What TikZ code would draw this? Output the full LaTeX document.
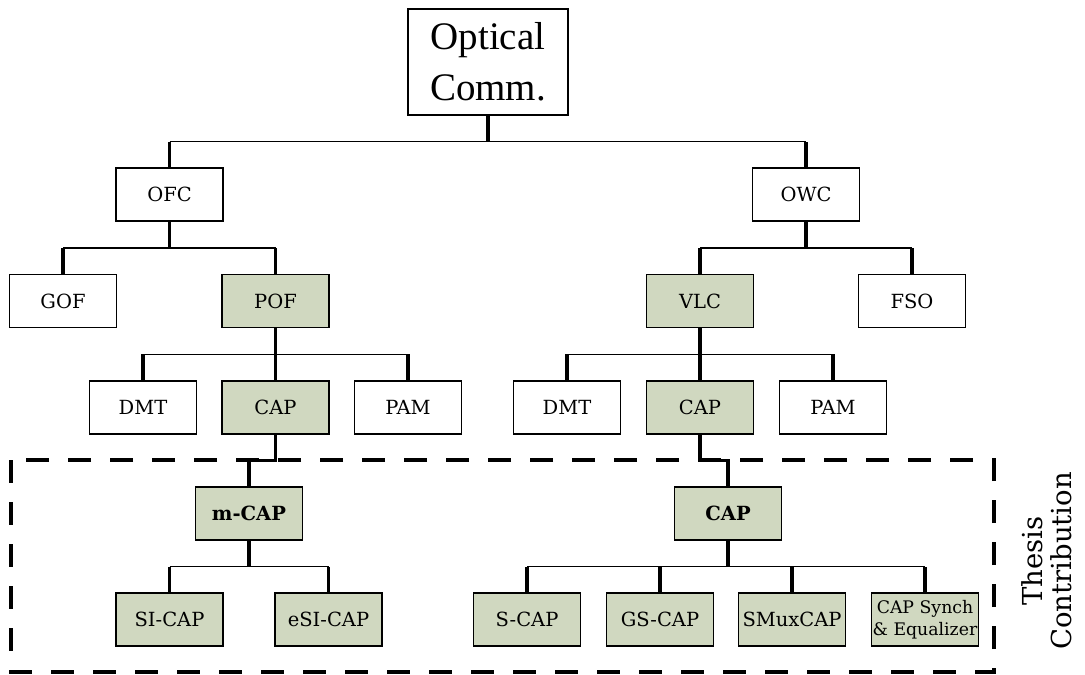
\documentclass[tikz,border=0pt]{standalone}
\usepackage{fontspec}
\setmainfont{Liberation Serif}
\newfontfamily\caixafont{DejaVu Serif}
\definecolor{contribfill}{RGB}{208,216,192}

\begin{document}
\begin{tikzpicture}[x=1pt, y=-1pt,
    caixa/.style={draw, line width=1.7pt, minimum width=107pt, minimum height=53pt,
        inner sep=0pt, font=\caixafont\fontsize{19.5}{23}\selectfont},
    destaque/.style={caixa, fill=contribfill},
    negrito/.style={font=\caixafont\bfseries\fontsize{19.5}{23}\selectfont},
    haste/.style={line width=3.8pt},
    barra/.style={line width=1.5pt},
    moldura/.style={line width=3.2pt, dash pattern=on 23pt off 19pt}
]
\useasboundingbox (0,0) rectangle (1085,675);

% Raiz
\node[draw, line width=1.7pt, minimum width=160pt, minimum height=106pt, align=center,
    font=\fontsize{39}{51}\selectfont] (optical) at (488,62) {Optical\\Comm.};

% Nivel 1 e 2
\node[caixa] (ofc) at (169.5,194.5) {OFC};
\node[caixa] (owc) at (806,194.5) {OWC};
\node[caixa] (gof) at (63,301) {GOF};
\node[destaque] (pof) at (275.5,301) {POF};
\node[destaque] (vlc) at (700,301) {VLC};
\node[caixa] (fso) at (912,301) {FSO};

% Modulacoes
\node[caixa] (dmtA) at (143,407.5) {DMT};
\node[destaque] (capA) at (275.5,407.5) {CAP};
\node[caixa] (pamA) at (408,407.5) {PAM};
\node[caixa] (dmtB) at (567,407.5) {DMT};
\node[destaque] (capB) at (700,407.5) {CAP};
\node[caixa] (pamB) at (833,407.5) {PAM};

% Contribuicao da tese
\draw[moldura] (11,460) rectangle (994,672);
\node[destaque, negrito] (mcap) at (249,513.5) {m-CAP};
\node[destaque, negrito] (capC) at (728,513.5) {CAP};
\node[destaque] (sicap) at (169.5,619.5) {SI-CAP};
\node[destaque] (esicap) at (328.5,619.5) {eSI-CAP};
\node[destaque] (scap) at (527,619.5) {S-CAP};
\node[destaque] (gscap) at (660,619.5) {GS-CAP};
\node[destaque] (smux) at (792,619.5) {SMuxCAP};
\node[destaque, align=center, font=\caixafont\fontsize{17.3}{22.5}\selectfont] (synch) at (925,619.5)
    {CAP Synch\\\& Equalizer};
\node[rotate=90, align=center, font=\caixafont\fontsize{27.5}{29}\selectfont] (tese) at (1047,561)
    {Thesis\\Contribution};

% Juncoes
\path (optical.south) -- (ofc.north) coordinate[pos=.5] (j0);
\path (ofc.south) -- (gof.north) coordinate[pos=.5] (j1);
\path (pof.south) -- (dmtA.north) coordinate[pos=.5] (j2);
\path (capA.south) -- (mcap.north) coordinate[pos=.5] (j3);
\path (mcap.south) -- (sicap.north) coordinate[pos=.5] (j4);

% Ligacoes
\draw[barra] (ofc.north |- j0) -- (owc.north |- j0);
\draw[haste] (optical.south) -- (optical.south |- j0);
\draw[haste] (ofc.north) -- (ofc.north |- j0);
\draw[haste] (owc.north) -- (owc.north |- j0);

\draw[barra] (gof.north |- j1) -- (pof.north |- j1);
\draw[barra] (vlc.north |- j1) -- (fso.north |- j1);
\draw[haste] (ofc.south) -- (ofc.south |- j1);
\draw[haste] (owc.south) -- (owc.south |- j1);
\draw[haste] (gof.north) -- (gof.north |- j1);
\draw[haste] (pof.north) -- (pof.north |- j1);
\draw[haste] (vlc.north) -- (vlc.north |- j1);
\draw[haste] (fso.north) -- (fso.north |- j1);

\draw[barra] (dmtA.north |- j2) -- (pamA.north |- j2);
\draw[barra] (dmtB.north |- j2) -- (pamB.north |- j2);
\draw[haste] (pof.south) -- (capA.north);
\draw[haste] (vlc.south) -- (capB.north);
\draw[haste] (dmtA.north) -- (dmtA.north |- j2);
\draw[haste] (pamA.north) -- (pamA.north |- j2);
\draw[haste] (dmtB.north) -- (dmtB.north |- j2);
\draw[haste] (pamB.north) -- (pamB.north |- j2);

\draw[haste] (capA.south) -- (capA.south |- j3) -| (mcap.north);
\draw[haste] (capB.south) -- (capB.south |- j3) -| (capC.north);

\draw[barra] (sicap.north |- j4) -- (esicap.north |- j4);
\draw[barra] (scap.north |- j4) -- (synch.north |- j4);
\draw[haste] (mcap.south) -- (mcap.south |- j4);
\draw[haste] (capC.south) -- (capC.south |- j4);
\draw[haste] (sicap.north) -- (sicap.north |- j4);
\draw[haste] (esicap.north) -- (esicap.north |- j4);
\draw[haste] (scap.north) -- (scap.north |- j4);
\draw[haste] (gscap.north) -- (gscap.north |- j4);
\draw[haste] (smux.north) -- (smux.north |- j4);
\draw[haste] (synch.north) -- (synch.north |- j4);
\end{tikzpicture}
\end{document}
